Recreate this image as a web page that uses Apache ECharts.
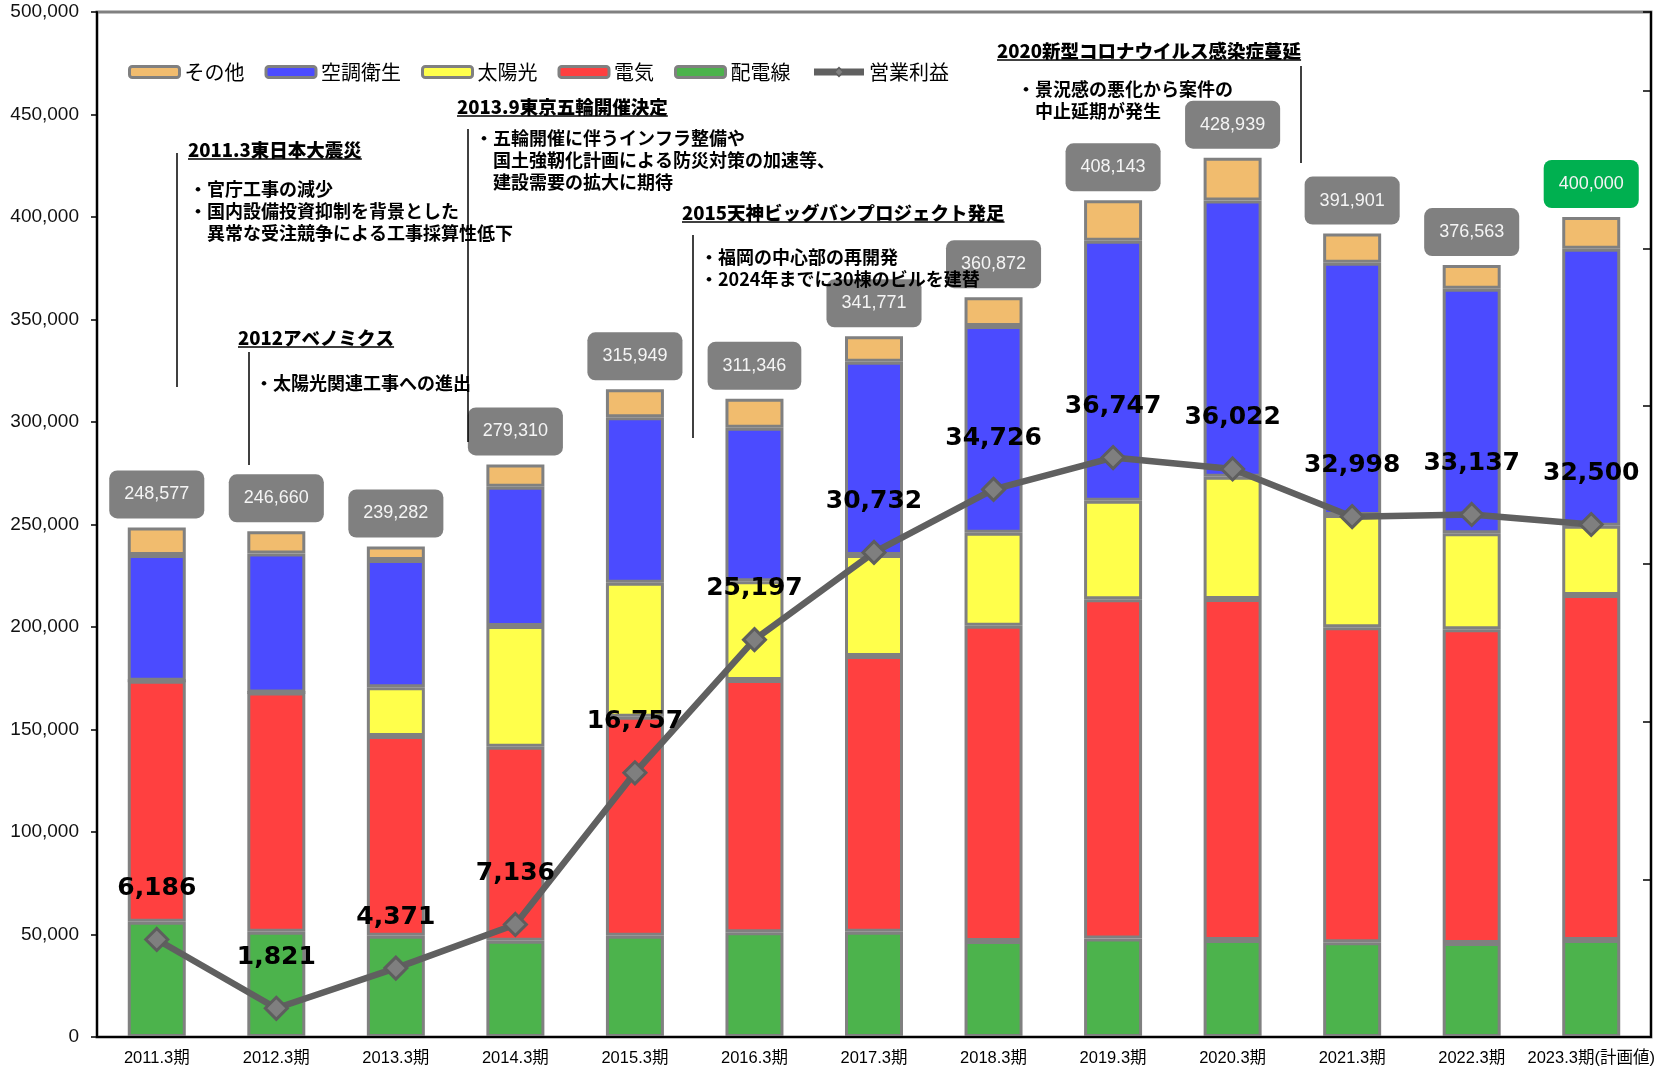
<!DOCTYPE html>
<html lang="ja">
<head>
<meta charset="utf-8">
<title>売上高構成と営業利益の推移</title>
<script src="https://cdn.jsdelivr.net/npm/echarts@6/dist/echarts.min.js"></script>
<style>
  html, body { margin: 0; padding: 0; background: #ffffff; }
  #chart { width: 1667px; height: 1071px; }
</style>
</head>
<body>
<div id="chart"></div>
<script>
// 決算期
const periods = ['2011.3期', '2012.3期', '2013.3期', '2014.3期', '2015.3期', '2016.3期', '2017.3期',
  '2018.3期', '2019.3期', '2020.3期', '2021.3期', '2022.3期', '2023.3期(計画値)'];

// 売上高の内訳（積み上げ順：下から）
const haidensen = [56200, 51400, 49400, 47000, 49400, 51100, 51400, 46800, 48100, 47300, 46200, 45900, 47300];
const denki     = [117600, 116600, 97400, 94600, 106800, 123000, 134500, 153800, 165400, 166400, 153700, 153000, 168300];
const taiyoko   = [0, 0, 23800, 58900, 65400, 48200, 49200, 45400, 48100, 59600, 54700, 46800, 33800];
const kucho     = [61300, 67800, 62100, 67900, 80700, 74900, 94300, 100800, 126800, 134700, 123100, 119300, 135100];
const sonota    = [13477, 10860, 6582, 10910, 13649, 14146, 12371, 14072, 19743, 20939, 14201, 11563, 15500];

// 売上高合計
const totals = [248577, 246660, 239282, 279310, 315949, 311346, 341771, 360872, 408143, 428939, 391901, 376563, 400000];

// 営業利益
const profit = [6186, 1821, 4371, 7136, 16757, 25197, 30732, 34726, 36747, 36022, 32998, 33137, 32500];

// 左軸の目盛
const leftTicks = { min: 0, max: 500000, interval: 50000 };
// 右軸（営業利益）の目盛
const rightTicks = { min: 0, max: 65000, interval: 10000 };

// 計画値の期
const planIndex = 12;

const fmt = v => Number(v).toLocaleString('en-US');

const BORDER = '#808080';
const LINE = '#606060';
const JP = '"Noto Sans CJK JP", "Noto Sans", sans-serif';

function barSeries(name, values, color, extra) {
  return Object.assign({
    name: name,
    type: 'bar',
    stack: 'sales',
    barWidth: 58,
    data: values,
    itemStyle: { color: color, borderColor: BORDER, borderWidth: 3 },
    emphasis: { disabled: true },
    z: 2
  }, extra || {});
}

// 注記（見出し・説明・縦線）
const notes = [
  { title: '2011.3東日本大震災', tx: 188, ty: 150, vx: 177, vy: [153, 387], bx: 189, by: 189,
    body: ['・官庁工事の減少', '・国内設備投資抑制を背景とした', '　異常な受注競争による工事採算性低下'] },
  { title: '2012アベノミクス', tx: 238, ty: 338, vx: 249, vy: [352, 465], bx: 255, by: 383,
    body: ['・太陽光関連工事への進出'] },
  { title: '2013.9東京五輪開催決定', tx: 457, ty: 107, vx: 468, vy: [129, 442], bx: 475, by: 138,
    body: ['・五輪開催に伴うインフラ整備や', '　国土強靭化計画による防災対策の加速等、', '　建設需要の拡大に期待'] },
  { title: '2015天神ビッグバンプロジェクト発足', tx: 682, ty: 213, vx: 693, vy: [235, 438], bx: 700, by: 257,
    body: ['・福岡の中心部の再開発', '・2024年までに30棟のビルを建替'] },
  { title: '2020新型コロナウイルス感染症蔓延', tx: 997, ty: 51, vx: 1301, vy: [66, 163], bx: 1017, by: 89,
    body: ['・景況感の悪化から案件の', '　中止延期が発生'] }
];

const titleFont = '900 18.5px ' + JP;
const bodyFont = 'bold 18px ' + JP;
const measureCtx = document.createElement('canvas').getContext('2d');
function textWidth(t, font) { measureCtx.font = font; return measureCtx.measureText(t).width; }

const graphics = [];
notes.forEach(n => {
  graphics.push({ type: 'text', x: n.tx, y: n.ty, z: 100,
    style: { text: n.title, font: titleFont, fill: '#000', verticalAlign: 'middle' } });
  const w = textWidth(n.title, titleFont);
  graphics.push({ type: 'line', z: 100,
    shape: { x1: n.tx, y1: n.ty + 9, x2: n.tx + w, y2: n.ty + 9 },
    style: { stroke: '#000', lineWidth: 1.5 } });
  graphics.push({ type: 'line', z: 100,
    shape: { x1: n.vx, y1: n.vy[0], x2: n.vx, y2: n.vy[1] },
    style: { stroke: '#000', lineWidth: 1.5 } });
  n.body.forEach((line, i) => {
    graphics.push({ type: 'text', x: n.bx, y: n.by + i * 22, z: 100,
      style: { text: line, font: bodyFont, fill: '#000', verticalAlign: 'middle' } });
  });
});

const sonotaData = sonota.map((v, i) => i === planIndex
  ? { value: v, label: { backgroundColor: '#00B050' } }
  : v);

const barLegend = name => ({ name: name, itemStyle: { borderColor: BORDER, borderWidth: 3 } });

const chart = echarts.init(document.getElementById('chart'), null, { renderer: 'canvas' });

chart.setOption({
  animation: false,
  backgroundColor: '#ffffff',
  grid: {
    left: 97, right: 16, top: 12, bottom: 34,
    show: true, borderColor: BORDER, borderWidth: 3, backgroundColor: 'transparent'
  },
  legend: {
    data: [
      barLegend('その他'), barLegend('空調衛生'), barLegend('太陽光'), barLegend('電気'), barLegend('配電線'),
      { name: '営業利益', lineStyle: { color: LINE, width: 7 },
        itemStyle: { color: '#7F7F7F', borderColor: LINE, borderWidth: 1.5 } }
    ],
    left: 123, top: 57,
    itemWidth: 50, itemHeight: 11, itemGap: 20,
    textStyle: { fontSize: 20, fontFamily: JP, color: '#000' },
    selectedMode: false
  },
  xAxis: {
    type: 'category',
    data: periods,
    axisLine: { lineStyle: { color: '#000', width: 2 } },
    axisTick: { inside: true, length: 6, lineStyle: { color: '#000', width: 1.5 } },
    axisLabel: { color: '#000', fontSize: 16.5, fontFamily: '"Liberation Sans", ' + JP, margin: 13, interval: 0 },
    z: 5
  },
  yAxis: [
    {
      type: 'value',
      min: leftTicks.min, max: leftTicks.max, interval: leftTicks.interval,
      axisLine: { show: true, lineStyle: { color: '#000', width: 2 } },
      axisTick: { show: true, length: 6, lineStyle: { color: '#000', width: 1.5 } },
      axisLabel: { color: '#111', fontSize: 19, fontFamily: '"Liberation Sans", Arial, sans-serif', margin: 18,
        formatter: v => fmt(v) },
      splitLine: { show: false },
      z: 5
    },
    {
      type: 'value',
      position: 'right',
      min: rightTicks.min, max: rightTicks.max, interval: rightTicks.interval,
      axisLine: { show: true, lineStyle: { color: '#000', width: 2 } },
      axisTick: { show: true, inside: true, length: 8, lineStyle: { color: '#000', width: 1.5 } },
      axisLabel: { show: false },
      splitLine: { show: false },
      z: 5
    }
  ],
  series: [
    barSeries('配電線', haidensen, '#4CB34C'),
    barSeries('電気', denki, '#FF4040'),
    barSeries('太陽光', taiyoko, '#FFFF4B'),
    barSeries('空調衛生', kucho, '#4B4BFF'),
    barSeries('その他', sonotaData, '#F1BC6E', {
      label: {
        show: true,
        position: 'top',
        distance: 9,
        formatter: p => fmt(totals[p.dataIndex]),
        color: '#F4F4F4',
        fontSize: 18,
        lineHeight: 20,
        fontFamily: '"Liberation Sans", Arial, sans-serif',
        backgroundColor: '#808080',
        borderRadius: 8,
        padding: [14, 15, 14, 15]
      }
    }),
    {
      name: '営業利益',
      type: 'line',
      yAxisIndex: 1,
      data: profit,
      symbol: 'diamond',
      symbolSize: 22,
      lineStyle: { color: LINE, width: 6.5 },
      itemStyle: { color: '#7F7F7F', borderColor: '#5E5E5E', borderWidth: 3 },
      emphasis: { disabled: true },
      label: {
        show: true,
        position: 'top',
        distance: 26,
        formatter: p => fmt(p.value),
        color: '#000',
        fontSize: 25,
        fontWeight: 'bold',
        fontFamily: '"DejaVu Sans", Verdana, sans-serif'
      },
      z: 10
    }
  ],
  graphic: graphics
});
</script>
</body>
</html>
